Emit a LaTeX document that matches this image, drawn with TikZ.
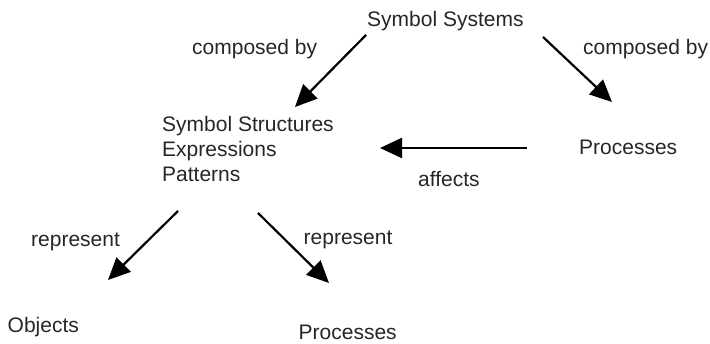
\documentclass[tikz,border=0pt]{standalone}
\usepackage{fontspec}
\setmainfont{Liberation Sans}
\usetikzlibrary{arrows.meta}
\begin{document}
\begin{tikzpicture}[x=1pt,y=-1pt,
  lbl/.style={anchor=base west,inner sep=0pt,font=\fontsize{21}{25}\selectfont,text=black!85},
  rel/.style={line width=2.2pt,-{Triangle[length=22pt,width=20pt]}}]
\useasboundingbox (0,0) rectangle (710,344);
% concepts
\node[lbl] (sys) at (367,27) {Symbol Systems};
\node[lbl,align=left] (struct) at (162,182) {Symbol Structures\\Expressions\\Patterns};
\node[lbl] (proc) at (579,155) {Processes};
\node[lbl] (obj) at (7.5,333) {Objects};
\node[lbl] (proc2) at (298.5,340) {Processes};
% relation labels
\node[lbl] (cb1) at (192,55) {composed by};
\node[lbl] (cb2) at (583,55) {composed by};
\node[lbl] (aff) at (418,187) {affects};
\node[lbl] (rep1) at (31,247) {represent};
\node[lbl] (rep2) at (303.5,245) {represent};
% arrow end points
\coordinate (a1s) at (366,35);   \coordinate (a1e) at (295,107);
\coordinate (a2s) at (543,37);   \coordinate (a2e) at (612,102);
\coordinate (a3s) at (527,148);  \coordinate (a3e) at (380,148);
\coordinate (a4s) at (178,211);  \coordinate (a4e) at (108,280);
\coordinate (a5s) at (258,213);  \coordinate (a5e) at (329,283);
% relations
\draw[rel] (a1s) -- (a1e);
\draw[rel] (a2s) -- (a2e);
\draw[rel] (a3s) -- (a3e);
\draw[rel] (a4s) -- (a4e);
\draw[rel] (a5s) -- (a5e);
\end{tikzpicture}
\end{document}
